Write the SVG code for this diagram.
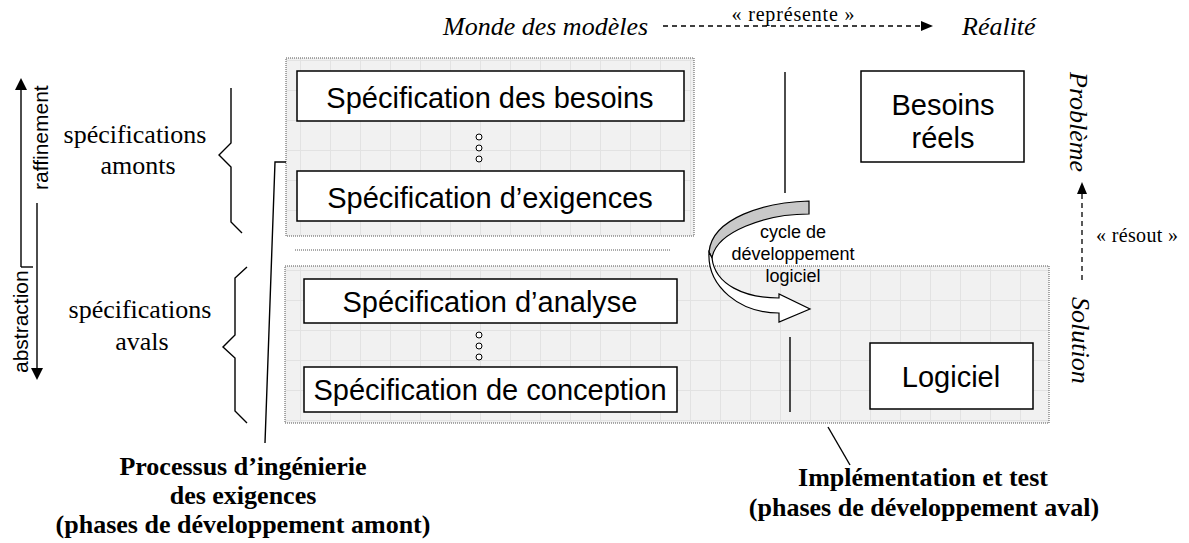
<svg xmlns="http://www.w3.org/2000/svg" width="1189" height="543" viewBox="0 0 1189 543">
<style>
.box{fill:#fff;stroke:#000;stroke-width:1.5}
.area{fill:url(#grid);stroke:#555;stroke-width:1;stroke-dasharray:1 1}
.sans{font-family:"Liberation Sans",Arial,sans-serif;fill:#000}
.serif{font-family:"Liberation Serif","Times New Roman",serif;fill:#000}
.big{font-size:29px}
.ln{fill:none;stroke:#000;stroke-width:1.4}
.dash{fill:none;stroke:#000;stroke-width:1.3;stroke-dasharray:5 4}
.dot{fill:#fff;stroke:#000;stroke-width:1}
</style>
<defs>
<pattern id="grid" width="30" height="30" patternUnits="userSpaceOnUse">
<rect width="30" height="30" fill="#f1f1f1"/>
<path d="M0 0.5H30M0.5 0V30" stroke="#e2e2e2" stroke-width="1"/>
</pattern>
<marker id="ah" markerWidth="12" markerHeight="10" refX="12" refY="5" orient="auto" markerUnits="userSpaceOnUse">
<path d="M0 0L12 5L0 10Z" fill="#000"/>
</marker>
</defs>
<rect width="1189" height="543" fill="#fff"/>

<g id="areas">
<rect id="upstream-area" class="area" x="286" y="58" width="408" height="178"/>
<rect id="downstream-area" class="area" x="285" y="266" width="764" height="157"/>
<line x1="295" y1="250" x2="670" y2="250" stroke="#555" stroke-width="1" stroke-dasharray="1 1"/>
</g>

<g id="connectors">
<line class="dash" x1="663" y1="26" x2="933" y2="26" marker-end="url(#ah)"/>
<line class="dash" x1="1082" y1="280" x2="1082" y2="182" marker-end="url(#ah)"/>
<polyline class="ln" points="21,267 21,88"/>
<path d="M21 78L27 90L15 90Z" fill="#000"/>
<line class="ln" x1="21" y1="267" x2="33" y2="267"/>
<line class="ln" x1="37" y1="203" x2="37" y2="369"/>
<path d="M37 380L31 368L43 368Z" fill="#000"/>
<polyline class="ln" points="231,88 231,143 219,155 231,167 231,222 242,233"/>
<polyline class="ln" points="247,267 235,278 235,335 223,347 235,358 235,411 247,423"/>
<polyline class="ln" points="265,443 275,162 286,162"/>
<line class="ln" x1="828" y1="427" x2="850" y2="465"/>
<line class="ln" x1="785" y1="72" x2="785" y2="193"/>
<line class="ln" x1="790" y1="337" x2="790" y2="412"/>
<path d="M809 201C765 202 712 218 709 252L712 258C716 232 765 214 809 214Z" fill="#c8c8c8" stroke="#000" stroke-width="1.2"/>
<path d="M709 252C707 287 740 313 779 313L779 322L810 309L779 294L779 298C745 298 715 285 712 258Z" fill="#fff" stroke="#000" stroke-width="1.2"/>
</g>

<g id="node-besoins-spec">
<rect class="box" x="297" y="71" width="387" height="50"/>
<text class="sans big" x="490" y="108" text-anchor="middle">Spécification des besoins</text>
</g>
<g id="dots-up">
<circle class="dot" cx="479" cy="137" r="3"/>
<circle class="dot" cx="479" cy="148" r="3"/>
<circle class="dot" cx="479" cy="159" r="3"/>
</g>
<g id="node-exigences">
<rect class="box" x="297" y="171" width="387" height="50"/>
<text class="sans big" x="490" y="208" text-anchor="middle">Spécification d’exigences</text>
</g>
<g id="node-analyse">
<rect class="box" x="304" y="279" width="373" height="44"/>
<text class="sans big" x="490" y="312" text-anchor="middle">Spécification d’analyse</text>
</g>
<g id="dots-down">
<circle class="dot" cx="479" cy="335" r="3"/>
<circle class="dot" cx="479" cy="346" r="3"/>
<circle class="dot" cx="479" cy="357" r="3"/>
</g>
<g id="node-conception">
<rect class="box" x="304" y="367" width="373" height="45"/>
<text class="sans big" x="490" y="400" text-anchor="middle">Spécification de conception</text>
</g>
<g id="node-besoins-reels">
<rect class="box" x="861" y="71" width="163" height="91"/>
<text class="sans big" x="943" y="115" text-anchor="middle">Besoins</text>
<text class="sans big" x="943" y="148" text-anchor="middle">réels</text>
</g>
<g id="node-logiciel">
<rect class="box" x="870" y="343" width="163" height="66"/>
<text class="sans big" x="951" y="387" text-anchor="middle">Logiciel</text>
</g>

<g id="labels">
<text class="serif" font-size="26" font-style="italic" x="443" y="35">Monde des modèles</text>
<text class="serif" font-size="26" font-style="italic" x="962" y="35">Réalité</text>
<text class="serif" font-size="20" x="793" y="21" text-anchor="middle" textLength="123">« représente »</text>
<text class="serif" font-size="20" x="1096" y="242" textLength="82">« résout »</text>
<text class="serif" font-size="26" font-style="italic" transform="translate(1070,72) rotate(90)">Problème</text>
<text class="serif" font-size="26" font-style="italic" transform="translate(1072,297) rotate(90)">Solution</text>
<text class="sans" font-size="21" transform="translate(48,190) rotate(-90)">raffinement</text>
<text class="sans" font-size="21" transform="translate(28,373) rotate(-90)">abstraction</text>
<text class="serif" font-size="26" x="135" y="143" text-anchor="middle">spécifications</text>
<text class="serif" font-size="26" x="138" y="174" text-anchor="middle">amonts</text>
<text class="serif" font-size="26" x="140" y="318" text-anchor="middle">spécifications</text>
<text class="serif" font-size="26" x="142" y="350" text-anchor="middle">avals</text>
<text class="sans" font-size="18" x="793" y="238" text-anchor="middle">cycle de</text>
<text class="sans" font-size="18" x="793" y="260" text-anchor="middle">développement</text>
<text class="sans" font-size="18" x="793" y="282" text-anchor="middle">logiciel</text>
<text class="serif" font-size="26" font-weight="bold" x="243" y="475" text-anchor="middle">Processus d’ingénierie</text>
<text class="serif" font-size="26" font-weight="bold" x="243" y="504" text-anchor="middle">des exigences</text>
<text class="serif" font-size="26" font-weight="bold" x="243" y="533" text-anchor="middle">(phases de développement amont)</text>
<text class="serif" font-size="26" font-weight="bold" x="923" y="486" text-anchor="middle">Implémentation et test</text>
<text class="serif" font-size="26" font-weight="bold" x="924" y="516" text-anchor="middle">(phases de développement aval)</text>
</g>
</svg>
